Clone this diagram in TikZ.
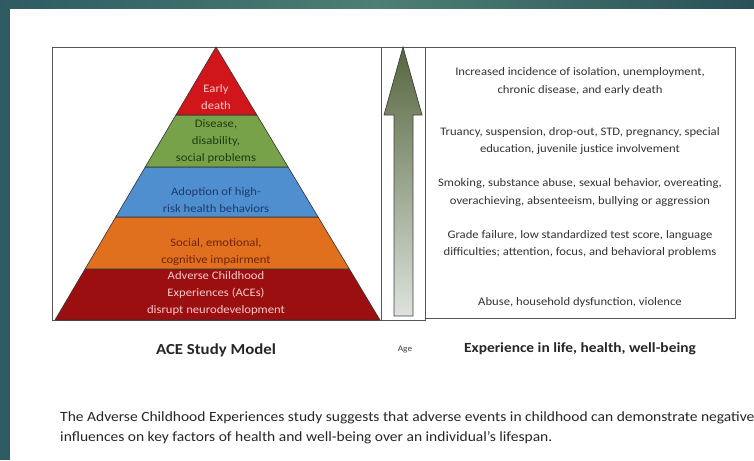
\documentclass[tikz,border=0pt]{standalone}
\usepackage{fontspec}
\setmainfont[FakeStretch=1.1]{Carlito}
\usetikzlibrary{calc}
\definecolor{teal1}{HTML}{2E5A62}
\definecolor{teal2}{HTML}{4E7E74}
\definecolor{lred}{HTML}{D0161B}
\definecolor{lgreen}{HTML}{78A24A}
\definecolor{lblue}{HTML}{4F8FD0}
\definecolor{lorange}{HTML}{E0701E}
\definecolor{ldred}{HTML}{9B0F10}
\definecolor{tpink}{HTML}{F6CACA}
\definecolor{tgreen}{HTML}{1E3D10}
\definecolor{tblue}{HTML}{1D3A6A}
\definecolor{tbrown}{HTML}{6E2410}
\definecolor{tgray}{HTML}{333333}
\definecolor{boxline}{HTML}{555555}
\definecolor{arrtop}{HTML}{56663F}
\definecolor{arrbot}{HTML}{DDE3DC}
\tikzset{
  layer/.style={draw=black!80, line width=0.6pt, line join=round},
  laytext/.style={align=center, font=\fontsize{11.5}{17}\selectfont, inner sep=0pt},
  rtext/.style={align=center, font=\fontsize{11.5}{17.5}\selectfont, text=tgray, inner sep=0pt},
  caption/.style={font=\bfseries\fontsize{14}{16}\selectfont, text=black!85, inner sep=0pt},
  frame/.style={draw=boxline, line width=0.8pt}
}
\begin{document}
\begin{tikzpicture}[x=1pt,y=-1pt]
\useasboundingbox (0,0) rectangle (754,460);
% background
\fill[teal1] (0,0) rectangle (754,460);
\shade[left color=teal1, right color=teal1!90!black, middle color=teal2] (0,0) rectangle (754,9);
\fill[white] (10,9) rectangle (754,460);
% frames
\draw[frame] (52,47) rectangle (381,320);
\draw[frame] (381,47) rectangle (425,320);
\draw[frame] (425,47) rectangle (735,318);
% pyramid
\coordinate (apex) at (216,47);
\coordinate (bl) at (55,320);
\coordinate (br) at (380,320);
\coordinate (l1) at ($(apex)!0.249!(bl)$);  \coordinate (r1) at ($(apex)!0.249!(br)$);
\coordinate (l2) at ($(apex)!0.4396!(bl)$); \coordinate (r2) at ($(apex)!0.4396!(br)$);
\coordinate (l3) at ($(apex)!0.6227!(bl)$); \coordinate (r3) at ($(apex)!0.6227!(br)$);
\coordinate (l4) at ($(apex)!0.8132!(bl)$); \coordinate (r4) at ($(apex)!0.8132!(br)$);
\filldraw[layer, fill=ldred] (l4) -- (r4) -- (br) -- (bl) -- cycle;
\filldraw[layer, fill=lorange] (l3) -- (r3) -- (r4) -- (l4) -- cycle;
\filldraw[layer, fill=lblue] (l2) -- (r2) -- (r3) -- (l3) -- cycle;
\filldraw[layer, fill=lgreen] (l1) -- (r1) -- (r2) -- (l2) -- cycle;
\filldraw[layer, fill=lred] (apex) -- (r1) -- (l1) -- cycle;
% pyramid labels
\node[laytext, text=tpink] (t1) at (216,97) {Early\\death};
\node[laytext, text=tgreen] (t2) at (216,141) {Disease,\\disability,\\social problems};
\node[laytext, text=tblue] (t3) at (216,200) {Adoption of high-\\risk health behaviors};
\node[laytext, text=tbrown] (t4) at (216,252) {Social, emotional,\\cognitive impairment};
\node[laytext, text=tpink] (t5) at (216,293) {Adverse Childhood\\Experiences (ACEs)\\disrupt neurodevelopment};
% arrow
\shade[top color=arrtop, bottom color=arrbot, draw=black!75, line width=0.7pt, line join=miter]
  (394,316) -- (394,115) -- (384,115) -- (403,47) -- (422,115) -- (413,115) -- (413,316) -- cycle;
% right texts
\node[rtext] (r1t) at (580,81.5) {Increased incidence of isolation, unemployment,\\chronic disease, and early death};
\node[rtext] (r2t) at (580,141) {Truancy, suspension, drop-out, STD, pregnancy, special\\education, juvenile justice involvement};
\node[rtext] (r3t) at (580,192.5) {Smoking, substance abuse, sexual behavior, overeating,\\overachieving, absenteeism, bullying or aggression};
\node[rtext] (r4t) at (580,244) {Grade failure, low standardized test score, language\\difficulties; attention, focus, and behavioral problems};
\node[rtext] (r5t) at (580,302) {Abuse, household dysfunction, violence};
% captions
\node[caption, font=\bfseries\fontsize{15.3}{17}\selectfont] (cap1) at (216,350) {ACE Study Model};
\node[font=\fontsize{8.5}{10}\selectfont, text=black!75, inner sep=0pt] (age) at (405,349) {Age};
\node[caption] (cap2) at (580,349) {Experience in life, health, well-being};
% paragraph
\node[anchor=west, inner sep=0pt, font=\fontsize{14.1}{20}\selectfont, text=black!85, align=left] (para) at (60,428)
  {The Adverse Childhood Experiences study suggests that adverse events in childhood can demonstrate negative\\influences on key factors of health and well-being over an individual’s lifespan.};
\end{tikzpicture}
\end{document}
